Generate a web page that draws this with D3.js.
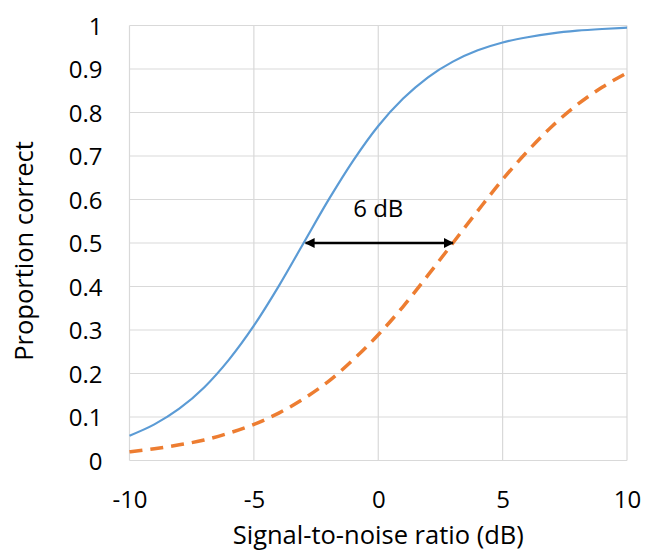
<!DOCTYPE html>
<html>
<head>
<meta charset="utf-8">
<script src="https://cdn.jsdelivr.net/npm/d3@7"></script>
<style>
  body { margin: 0; background: #fff; }
  svg text { font-family: "Open Sans", sans-serif; fill: #000; }
</style>
</head>
<body>
<svg id="chart" width="655" height="550"></svg>
<script>
// values, one per dB step
var snr = [-10, -9, -8, -7, -6, -5, -4, -3, -2, -1, 0, 1, 2, 3, 4, 5, 6, 7, 8, 9, 10];
var quietCurve = [0.057, 0.083, 0.119, 0.168, 0.232, 0.310, 0.401, 0.500, 0.599, 0.690, 0.769,
                  0.832, 0.881, 0.917, 0.943, 0.961, 0.973, 0.982, 0.988, 0.992, 0.995];
var noisyCurve = [0.020, 0.027, 0.036, 0.047, 0.063, 0.083, 0.109, 0.142, 0.182, 0.232, 0.289,
                  0.354, 0.426, 0.500, 0.574, 0.646, 0.711, 0.769, 0.818, 0.858, 0.891];
var xTicks = [-10, -5, 0, 5, 10];
var yTicks = [0, 0.1, 0.2, 0.3, 0.4, 0.5, 0.6, 0.7, 0.8, 0.9, 1];
var arrowFrom = -3, arrowTo = 3, arrowLevel = 0.5;
var arrowLabel = "6 dB";

var svg = d3.select("#chart");
var margin = {left: 129.5, right: 28, top: 25.5, bottom: 89.5};
var W = 655, H = 550;
var fs = 24, titleFs = 25.5;

var x = d3.scaleLinear().domain([-10, 10]).range([margin.left, W - margin.right]);
var y = d3.scaleLinear().domain([0, 1]).range([H - margin.bottom, margin.top]);

var grid = svg.append("g");
grid.selectAll("line.h")
    .data(yTicks)
    .enter().append("line")
    .attr("x1", x(-10)).attr("x2", x(10))
    .attr("y1", function (d) { return y(d); })
    .attr("y2", function (d) { return y(d); })
    .attr("stroke", "#d9d9d9").attr("stroke-width", 1.2);
grid.selectAll("line.v")
    .data(xTicks)
    .enter().append("line")
    .attr("y1", y(0)).attr("y2", y(1))
    .attr("x1", function (d) { return x(d); })
    .attr("x2", function (d) { return x(d); })
    .attr("stroke", "#d9d9d9").attr("stroke-width", 1.2);

// axes (labels only, Excel style), plain hyphen for negatives
var yAxis = svg.append("g")
    .attr("transform", "translate(" + (margin.left - 27) + ",0)")
    .call(d3.axisLeft(y).tickValues(yTicks).tickSize(0).tickFormat(function (d) { return String(d); }));
yAxis.select(".domain").remove();
yAxis.selectAll("text").attr("font-size", fs).attr("dy", "0.36em").attr("x", 0);

var xAxis = svg.append("g")
    .attr("transform", "translate(0," + y(0) + ")")
    .call(d3.axisBottom(x).tickValues(xTicks).tickSize(0).tickFormat(function (d) { return String(d); }));
xAxis.select(".domain").remove();
xAxis.selectAll("text").attr("font-size", fs).attr("y", 47.5).attr("dy", 0);

svg.append("text")
    .attr("x", x(0)).attr("y", 544)
    .attr("text-anchor", "middle").attr("font-size", titleFs)
    .text("Signal-to-noise ratio (dB)");

svg.append("text")
    .attr("transform", "translate(33," + 251 + ") rotate(-90)")
    .attr("text-anchor", "middle").attr("font-size", titleFs)
    .text("Proportion correct");

var line = d3.line()
    .x(function (d) { return x(d[0]); })
    .y(function (d) { return y(d[1]); })
    .curve(d3.curveMonotoneX);

svg.append("path")
    .datum(d3.zip(snr, noisyCurve))
    .attr("d", line)
    .attr("fill", "none")
    .attr("stroke", "#ed7d31")
    .attr("stroke-width", 3.5)
    .attr("stroke-dasharray", "13,8");

svg.append("path")
    .datum(d3.zip(snr, quietCurve))
    .attr("d", line)
    .attr("fill", "none")
    .attr("stroke", "#5b9bd5")
    .attr("stroke-width", 2.2);

// double headed arrow
var defs = svg.append("defs");
defs.append("marker")
    .attr("id", "head")
    .attr("viewBox", "0 0 10 10")
    .attr("refX", 9).attr("refY", 5)
    .attr("markerWidth", 4.2).attr("markerHeight", 4)
    .attr("markerUnits", "strokeWidth")
    .attr("orient", "auto-start-reverse")
    .append("path").attr("d", "M0,0 L10,5 L0,10 z").attr("fill", "#000");

svg.append("line")
    .attr("x1", x(arrowFrom) + 2).attr("x2", x(arrowTo))
    .attr("y1", y(arrowLevel)).attr("y2", y(arrowLevel))
    .attr("stroke", "#000").attr("stroke-width", 2.5)
    .attr("marker-start", "url(#head)")
    .attr("marker-end", "url(#head)");

svg.append("text")
    .attr("x", x((arrowFrom + arrowTo) / 2)).attr("y", 217)
    .attr("text-anchor", "middle").attr("font-size", fs)
    .text(arrowLabel);
</script>
</body>
</html>
